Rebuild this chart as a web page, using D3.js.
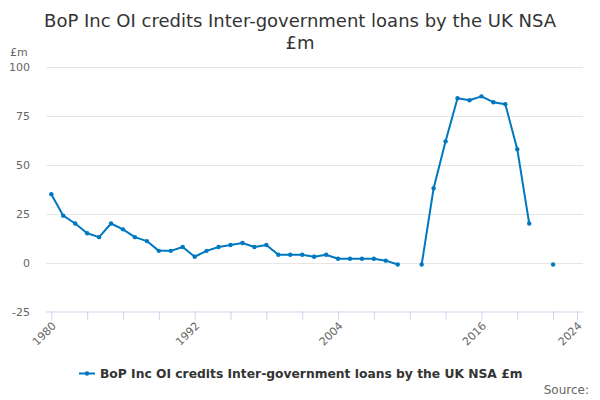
<!DOCTYPE html>
<html>
<head>
<meta charset="utf-8">
<script src="https://cdn.jsdelivr.net/npm/d3@7"></script>
<style>
  body { margin: 0; background: #fff; }
  text { font-family: "DejaVu Sans", Verdana, sans-serif; }
</style>
</head>
<body>
<svg id="chart" width="600" height="400"></svg>
<script>
/*
Data
*/

const years = [
  1980, 1981, 1982, 1983, 1984, 1985, 1986, 1987, 1988, 1989,
  1990, 1991, 1992, 1993, 1994, 1995, 1996, 1997, 1998, 1999,
  2000, 2001, 2002, 2003, 2004, 2005, 2006, 2007, 2008, 2009,
  2010, 2011, 2012, 2013, 2014, 2015, 2016, 2017, 2018, 2019,
  2020, 2021, 2022
];

// null = no value published for that year
const values = [
  35, 24, 20, 15, 13, 20, 17, 13, 11, 6,
  6, 8, 3, 6, 8, 9, 10, 8, 9, 4,
  4, 4, 3, 4, 2, 2, 2, 2, 1, -1,
  null, -1, 38, 62, 84, 83, 85, 82, 81, 58,
  20, null, -1
];

const yTicks = [-25, 0, 25, 50, 75, 100];
const xTicks = [1980, 1983, 1986, 1989, 1992, 1995, 1998, 2001, 2004, 2007,
                2010, 2013, 2016, 2019, 2022, 2024];
const xLabels = [1980, 1992, 2004, 2016, 2024];

const titleLines = ["BoP Inc OI credits Inter-government loans by the UK NSA", "£m"];
const seriesName = "BoP Inc OI credits Inter-government loans by the UK NSA £m";

/*
Chart
*/

const colour = "#0078c0";
const svg = d3.select("#chart");

const x = d3.scaleLinear().domain([1980, 2024]).range([51.3, 577]);
const y = d3.scaleLinear().domain([-25, 100]).range([311.5, 67]);

const data = years.map((yr, i) => ({ year: yr, value: values[i] }));

// Title
svg.append("g")
  .selectAll("text")
  .data(titleLines)
  .enter()
  .append("text")
  .attr("x", 300)
  .attr("y", (d, i) => 27 + i * 22)
  .attr("text-anchor", "middle")
  .attr("fill", "#333")
  .style("font-size", "18px")
  .text(d => d);

// Gridlines
svg.append("g")
  .selectAll("line")
  .data(yTicks.filter(d => d !== -25))
  .enter()
  .append("line")
  .attr("x1", 46)
  .attr("x2", 583)
  .attr("y1", d => Math.round(y(d)) + 0.5)
  .attr("y2", d => Math.round(y(d)) + 0.5)
  .attr("stroke", "#e6e6e6");

// Y axis labels
svg.append("g")
  .selectAll("text")
  .data(yTicks)
  .enter()
  .append("text")
  .attr("x", 30)
  .attr("y", d => y(d) + 4)
  .attr("text-anchor", "end")
  .attr("fill", "#666")
  .style("font-size", "11px")
  .text(d => d);

svg.append("text")
  .attr("x", 10)
  .attr("y", 56)
  .attr("fill", "#666")
  .style("font-size", "11px")
  .text("£m");

// X axis
const xAxis = d3.axisBottom(x)
  .tickValues(xTicks)
  .tickSize(9)
  .tickFormat(d => xLabels.includes(d) ? d : "");

const gx = svg.append("g")
  .attr("transform", "translate(0," + 311.5 + ")")
  .call(xAxis);

gx.select(".domain")
  .attr("d", "M46,0.5H583")
  .attr("stroke", "#ccd6eb");
gx.selectAll(".tick line").attr("stroke", "#ccd6eb");
gx.selectAll(".tick text")
  .attr("fill", "#666")
  .style("font-size", "11px")
  .attr("text-anchor", "end")
  .attr("x", 0)
  .attr("y", 0)
  .attr("dy", 0)
  .attr("transform", "translate(5,15) rotate(-45)");

// Line
const line = d3.line()
  .defined(d => d.value !== null)
  .x(d => x(d.year))
  .y(d => y(d.value));

svg.append("path")
  .datum(data)
  .attr("d", line)
  .attr("fill", "none")
  .attr("stroke", colour)
  .attr("stroke-width", 2)
  .attr("stroke-linejoin", "round");

svg.append("g")
  .selectAll("circle")
  .data(data.filter(d => d.value !== null))
  .enter()
  .append("circle")
  .attr("cx", d => x(d.year))
  .attr("cy", d => y(d.value))
  .attr("r", 2.2)
  .attr("fill", colour);

// Legend
const legend = svg.append("g").attr("transform", "translate(79,373.5)");
legend.append("line")
  .attr("x1", 0).attr("x2", 16)
  .attr("stroke", colour).attr("stroke-width", 2);
legend.append("circle").attr("cx", 8).attr("r", 2.2).attr("fill", colour);
legend.append("text")
  .attr("x", 21)
  .attr("y", 4.5)
  .attr("fill", "#333")
  .style("font-size", "12.3px")
  .style("font-weight", "bold")
  .text(seriesName);

// Credits
svg.append("text")
  .attr("x", 589)
  .attr("y", 394)
  .attr("text-anchor", "end")
  .attr("fill", "#666")
  .style("font-size", "12px")
  .text("Source:");
</script>
</body>
</html>
